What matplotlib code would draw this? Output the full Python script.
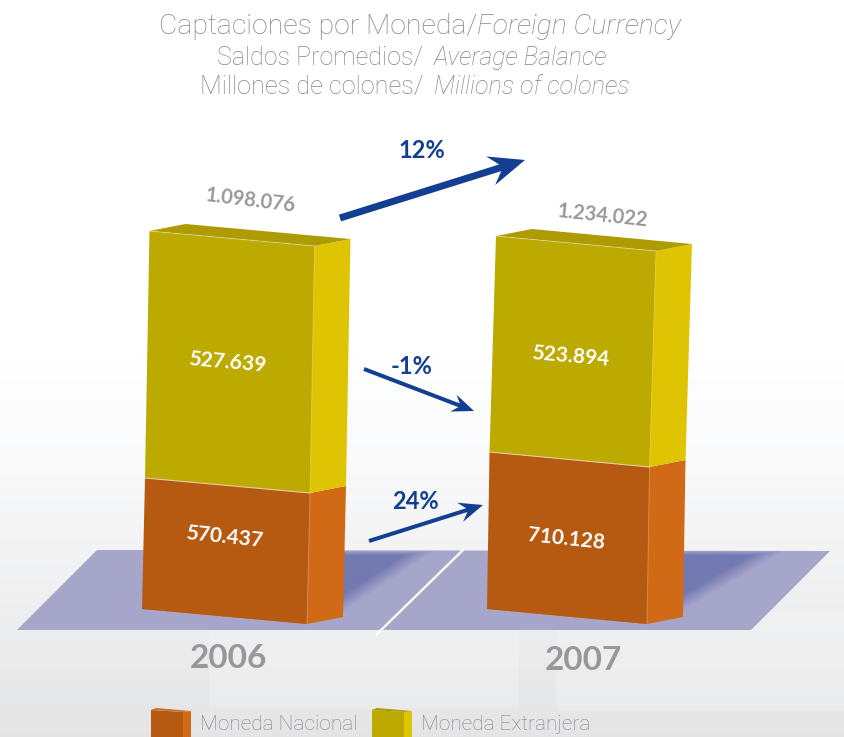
import numpy as np
import matplotlib
matplotlib.use("Agg")
import matplotlib.pyplot as plt
from matplotlib.patches import Polygon, Rectangle

years = ["2006", "2007"]
series_names = ["Moneda Nacional", "Moneda Extranjera"]
nacional = [570437, 710128]
extranjera = [527639, 523894]
totals = [1098076, 1234022]
nacional_labels = ["570.437", "710.128"]
extranjera_labels = ["527.639", "523.894"]
total_labels = ["1.098.076", "1.234.022"]
growth_labels = ["12%", "-1%", "24%"]
title_lines = [("Captaciones por Moneda/", "Foreign Currency"),
               ("Saldos Promedios/ ", "Average Balance"),
               ("Millones de colones/ ", "Millions of colones")]
# Drawn segment heights as they appear in the picture (the original is not to scale)
nacional_drawn = [131, 157]
extranjera_drawn = [247, 216]

W, H = 845, 737
FONT = "Lato"
LIGHT = "Roboto"
TXT = "#858589"
fig = plt.figure(figsize=(W / 100, H / 100), dpi=100)
ax = fig.add_axes([0, 0, 1, 1])
ax.axis("off")

# background gradient
yy = np.linspace(0, 1, 256)
g = np.interp(yy, [0, 0.47, 0.62, 0.8, 1], [1, 1, 0.98, 0.94, 0.895])
img = np.dstack([g, g + 0.002, g + 0.006]).clip(0, 1).reshape(256, 1, 3)
ax.imshow(img, extent=[0, W, H, 0], aspect="auto", zorder=0)

# faint lighter panels
for x0, x1, y1 in [(209, 519, 709), (557, 845, 711)]:
    ax.add_patch(Rectangle((x0, 612), x1 - x0, y1 - 612, fc="white", ec="none", alpha=0.2, zorder=0.5))

# floor
floor = Polygon([(97, 550), (830, 551), (751, 630), (17, 630)], closed=True, fc="#a6a6ca", ec="none", zorder=1)
ax.add_patch(floor)

# soft shadows
for x0, x1, y0, y1 in [(338, 436, 550, 615), (676, 786, 550, 615)]:
    gx, gy = np.meshgrid(np.arange(x0, x1 + 1.0), np.arange(y0, y1 + 1.0))
    ex, ey = x1 - x0, y1 - y0
    L = np.hypot(ex, ey)
    d_diag = (ex * (y1 - gy) - ey * (gx - x0)) / L
    d = np.minimum(d_diag / 14, (gy - y0) / 5)
    a = np.clip(d, 0, 1) * 0.72
    rgba = np.zeros(gx.shape + (4,))
    rgba[..., :3] = matplotlib.colors.to_rgb("#6068a8")
    rgba[..., 3] = a
    ax.imshow(rgba, extent=[x0, x1, y1, y0], aspect="auto", interpolation="bilinear", zorder=2)

ax.plot([463, 377], [550, 634], color="white", lw=1.6, zorder=3)
ax.set_xlim(0, W); ax.set_ylim(H, 0)


def box(base, h, lean, w, front, side, top):
    """Oblique box whose lower-left front corner is base and whose height is h."""
    bx, by = base
    wx, wy = w, 15
    sx, sy = 36, -7
    tx, ty = bx + lean, by - h
    ax.add_patch(Polygon([(bx, by), (bx + wx, by + wy), (bx + wx + sx, by + wy + sy),
                          (tx + wx + sx, ty + wy + sy), (tx + wx, ty + wy)], closed=True, fc=side, ec="none", zorder=4))
    ax.add_patch(Polygon([(bx, by), (bx + wx, by + wy), (tx + wx, ty + wy), (tx, ty)],
                         closed=True, fc=front, ec="none", zorder=5))
    ax.plot([bx + wx, tx + wx], [by + wy, ty + wy], color="white", alpha=0.3, lw=0.6, zorder=6)
    if top is not None:
        ax.add_patch(Polygon([(tx, ty), (tx + wx, ty + wy), (tx + wx + sx, ty + wy + sy), (tx + sx, ty + sy)],
                             closed=True, fc=top, ec="none", zorder=5))
        ax.plot([tx, tx + wx], [ty, ty + wy], color="white", alpha=0.45, lw=0.6, zorder=6)
    else:
        ax.plot([tx, tx + wx], [ty, ty + wy], color="#e8c9a8", lw=0.8, zorder=6)
    return tx, ty


bases = [(142, 609), (487, 609)]
widths = [165, 160]
lean1 = [0.023, 0.016]
lean2 = [0.018, 0.03]
pos1 = [(224, 537), (566, 539)]
pos2 = [(227, 362), (570, 356)]
for i in range(2):
    h1 = nacional_drawn[i]; h2 = extranjera_drawn[i]
    t1 = box(bases[i], h1, h1 * lean1[i], widths[i], "#b55a10", "#d16a17", None)
    t2 = box(t1, h2, h2 * lean2[i], widths[i], "#bdaa00", "#dfc403", "#ad9b00")
    ax.text(*pos1[i], nacional_labels[i], color="white", family=FONT, weight="bold", fontsize=15,
            rotation=-6, ha="center", va="center", rotation_mode="anchor", zorder=7)
    ax.text(*pos2[i], extranjera_labels[i], color="white", family=FONT, weight="bold", fontsize=15,
            rotation=-5, ha="center", va="center", rotation_mode="anchor", zorder=7)

ax.text(251, 201, total_labels[0], color="#98989b", family=FONT, weight="bold", fontsize=14.5, rotation=-7,
        ha="center", va="center", rotation_mode="anchor", zorder=7)
ax.text(603, 216, total_labels[1], color="#98989b", family=FONT, weight="bold", fontsize=14.5, rotation=-6,
        ha="center", va="center", rotation_mode="anchor", zorder=7)

# growth arrows
NAVY = "#123f91"


def arrow(x0, y0, x1, y1, w, hw, hl, notch):
    v = np.array([x1 - x0, y1 - y0], float)
    L = np.hypot(*v); u = v / L; n = np.array([-u[1], u[0]])
    p0, p1 = np.array([x0, y0], float), np.array([x1, y1], float)
    neck = p1 - u * (hl - notch)
    barb = p1 - u * hl
    pts = [p0 + n * w / 2, neck + n * w / 2, barb + n * hw / 2, p1, barb - n * hw / 2, neck - n * w / 2, p0 - n * w / 2]
    ax.add_patch(Polygon(pts, closed=True, fc=NAVY, ec="none", zorder=8))


for (x0, y0, x1, y1, w, hw, hl, nt), lab, (lx, ly) in zip(
        [(340, 218, 525, 160, 7, 30, 36, 10), (364, 369, 474, 411, 4, 18, 22, 6), (369, 541, 483, 505, 4, 20, 24, 7)],
        growth_labels, [(422, 150), (412, 366), (415, 501)]):
    arrow(x0, y0, x1, y1, w, hw, hl, nt)
    ax.text(lx, ly, lab, color=NAVY, family=FONT, weight="bold", fontsize=17, ha="center", va="center", zorder=8)

# category labels
ax.text(228, 659, years[0], color="#98989b", family=FONT, weight="bold", fontsize=24, ha="center", va="center", zorder=8)
ax.text(583, 661, years[1], color="#98989b", family=FONT, weight="bold", fontsize=24, ha="center", va="center", zorder=8)

# title: upright + italic parts, centred together
r = fig.canvas.get_renderer()
for (a, b), y, fs, cx in zip(title_lines, [26, 58, 87], [20.4, 18, 18.2], [420, 412, 415]):
    ta = ax.text(0, y, a, color=TXT, family=LIGHT, weight="light", fontsize=fs, va="center", zorder=8)
    tb = ax.text(0, y, b, color=TXT, family=LIGHT, weight="light", style="italic", fontsize=fs, va="center", zorder=8)
    gap = 5 if a.endswith(" ") else 0
    wa = ta.get_window_extent(r).width; wb = tb.get_window_extent(r).width
    start = cx - (wa + wb + gap) / 2
    ta.set_x(start); tb.set_x(start + wa + gap)

# legend
for x, name, front, side, top, tx in [(151, series_names[0], "#b55a10", "#d16a17", "#c8702a", 200),
                                      (372, series_names[1], "#bdaa00", "#dfc403", "#ad9b00", 421)]:
    ax.add_patch(Polygon([(x, 710), (x + 32, 712), (x + 32, 737), (x, 737)], closed=True, fc=front, ec="none", zorder=8))
    ax.add_patch(Polygon([(x + 32, 712), (x + 40, 711), (x + 40, 737), (x + 32, 737)], closed=True, fc=side, ec="none", zorder=8))
    ax.add_patch(Polygon([(x, 710), (x + 5, 708), (x + 40, 711), (x + 32, 712)], closed=True, fc=top, ec="none", zorder=8))
    ax.text(tx, 724, name, color=TXT, family=LIGHT, weight="light", fontsize=15, va="center", zorder=8)

fig.savefig("out.png", dpi=100)
